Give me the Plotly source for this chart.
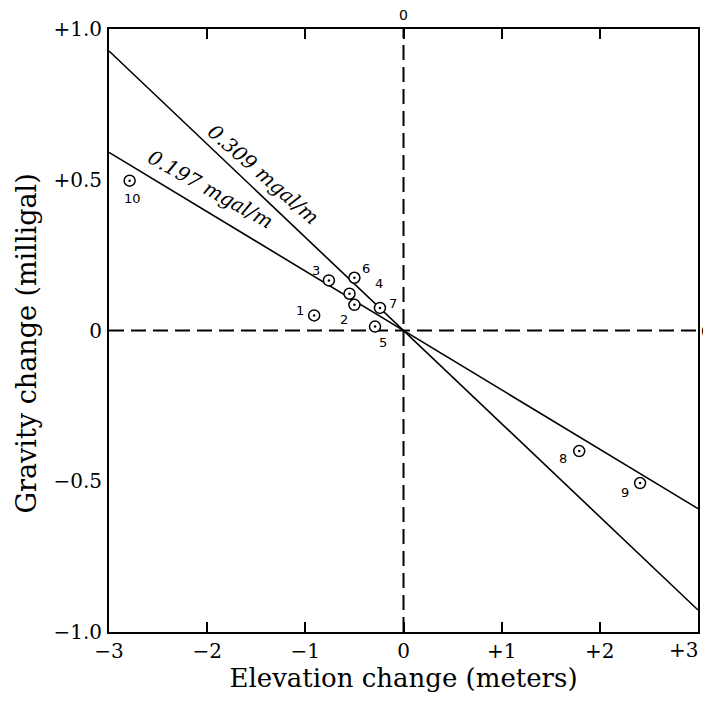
import plotly.graph_objects as go

# ---- data ----
station_ids = ["1", "2", "3", "4", "5", "6", "7", "8", "9", "10"]
elevation_change = [-0.91, -0.50, -0.76, -0.55, -0.29, -0.50, -0.24, 1.79, 2.41, -2.79]
gravity_change = [0.05, 0.085, 0.166, 0.122, 0.013, 0.175, 0.075, -0.40, -0.506, 0.497]
# label offsets (pixels, right / up) for the station numbers
label_dx = [-14, -10, -13, 29, 8, 12, 13, -16, -15, 3]
label_dy = [5, -15, 10, 10, -16, 9, 4, -7, -9, -18]

gradients = [0.309, 0.197]
gradient_labels = ["0.309 mgal/m", "0.197 mgal/m"]
line_x = [-3, 3]

x_tickvals = [-3, -2, -1, 0, 1, 2, 3]
x_ticktext = ["\u22123", "\u22122", "\u22121", "0", "+1", "+2", "+3"]
y_tickvals = [1.0, 0.5, 0, -0.5, -1.0]
y_ticktext = ["+1.0", "+0.5", "0", "\u22120.5", "\u22121.0"]

x_title = "Elevation change (meters)"
y_title = "Gravity change (milligal)"

SERIF = "DejaVu Serif, Liberation Serif, serif"
SANS = "DejaVu Sans, Liberation Sans, sans-serif"

fig = go.Figure()

# dashed zero axes
fig.add_trace(go.Scatter(x=[-3, 3], y=[0, 0], mode="lines",
                         line=dict(color="black", width=2, dash="15px,7px"),
                         hoverinfo="skip", showlegend=False))
fig.add_trace(go.Scatter(x=[0, 0], y=[-1, 1], mode="lines",
                         line=dict(color="black", width=2, dash="15px,7px"),
                         hoverinfo="skip", showlegend=False))

# gradient lines
for g in gradients:
    fig.add_trace(go.Scatter(x=line_x, y=[-g * v for v in line_x], mode="lines",
                             line=dict(color="black", width=1.6),
                             showlegend=False, name=f"{g} mgal/m"))

# stations: white-filled circle with centre dot
fig.add_trace(go.Scatter(x=elevation_change, y=gravity_change, mode="markers",
                         marker=dict(symbol="circle", size=11, color="white",
                                     line=dict(color="black", width=1.5)),
                         showlegend=False, hoverinfo="skip"))
fig.add_trace(go.Scatter(x=elevation_change, y=gravity_change, mode="markers",
                         marker=dict(symbol="circle", size=2.5, color="black"),
                         text=station_ids, showlegend=False))

annotations = []
for sid, x, y, dx, dy in zip(station_ids, elevation_change, gravity_change, label_dx, label_dy):
    annotations.append(dict(x=x, y=y, text=sid, showarrow=False, xshift=dx, yshift=dy,
                            font=dict(family=SANS, size=13, color="black")))

# gradient labels along the lines
annotations.append(dict(x=-1.43, y=0.52, text="<i>" + gradient_labels[0] + "</i>", showarrow=False,
                        textangle=41, font=dict(family=SERIF, size=20, color="black")))
annotations.append(dict(x=-1.97, y=0.47, text="<i>" + gradient_labels[1] + "</i>", showarrow=False,
                        textangle=29, font=dict(family=SERIF, size=20, color="black")))

# the extra "0" labels on top and right
annotations.append(dict(x=0, y=1, xref="x", yref="paper", text="0", showarrow=False,
                        yanchor="bottom", yshift=4, font=dict(family=SANS, size=14, color="black")))
annotations.append(dict(x=1, y=0, xref="paper", yref="y", text="0", showarrow=False,
                        xanchor="left", xshift=1, font=dict(family=SANS, size=14, color="black")))

# last x tick label, right-aligned at the frame as in the reference
annotations.append(dict(x=x_tickvals[-1], y=0, xref="x", yref="paper", text=x_ticktext[-1],
                        showarrow=False, xanchor="right", yanchor="middle", yshift=-18, xshift=2,
                        font=dict(family=SERIF, size=20, color="black")))

# y-axis title (placed as annotation to match the reference's vertical offset)
annotations.append(dict(x=0, y=0.5, xref="paper", yref="paper", text=y_title, showarrow=False,
                        textangle=-90, xanchor="center", yanchor="middle", xshift=-83, yshift=-13,
                        font=dict(family=SERIF, size=27, color="black")))

axis_ticktext = x_ticktext[:-1] + [""]

# page body has an 8px margin, so the figure is sized / margined to land the
# plot frame where the reference has it
fig.update_layout(
    width=703, height=693,
    margin=dict(l=101, r=13, t=21, b=69),
    plot_bgcolor="white", paper_bgcolor="white",
    annotations=annotations,
    font=dict(family=SERIF, color="black"),
    xaxis=dict(range=[-3, 3], tickvals=x_tickvals, ticktext=axis_ticktext,
               ticks="inside", ticklen=10, tickwidth=2, tickcolor="black",
               showline=True, linecolor="black", linewidth=2, mirror="ticks",
               showgrid=False, zeroline=False, automargin=False,
               tickfont=dict(family=SERIF, size=20, color="black"),
               title=dict(text=x_title, standoff=4,
                          font=dict(family=SERIF, size=26, color="black"))),
    yaxis=dict(range=[-1, 1], tickvals=y_tickvals, ticktext=y_ticktext,
               ticks="", showline=True, linecolor="black", linewidth=2, mirror=True,
               showgrid=False, zeroline=False, ticklabelstandoff=1, automargin=False,
               tickfont=dict(family=SERIF, size=20, color="black")),
)

fig.write_html("out.html")
